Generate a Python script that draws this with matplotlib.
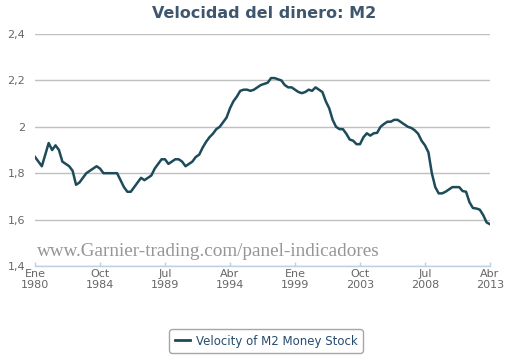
import numpy as np
import matplotlib
matplotlib.use("Agg")
import matplotlib.pyplot as plt
from matplotlib.lines import Line2D

# Quarterly velocity of M2 money stock, 1980Q1 .. 2013Q2
start_year = 1980.0
velocity = [
    1.87, 1.85, 1.83, 1.88,   # 1980
    1.93, 1.90, 1.92, 1.90,   # 1981
    1.85, 1.84, 1.83, 1.81,   # 1982
    1.75, 1.76, 1.78, 1.80,   # 1983
    1.81, 1.82, 1.83, 1.82,   # 1984
    1.80, 1.80, 1.80, 1.80,   # 1985
    1.80, 1.77, 1.74, 1.72,   # 1986
    1.72, 1.74, 1.76, 1.78,   # 1987
    1.77, 1.78, 1.79, 1.82,   # 1988
    1.84, 1.86, 1.86, 1.84,   # 1989
    1.85, 1.86, 1.86, 1.85,   # 1990
    1.83, 1.84, 1.85, 1.87,   # 1991
    1.88, 1.91, 1.935, 1.955, # 1992
    1.97, 1.99, 2.00, 2.02,   # 1993
    2.04, 2.08, 2.11, 2.13,   # 1994
    2.155, 2.16, 2.16, 2.155, # 1995
    2.16, 2.17, 2.18, 2.185,  # 1996
    2.19, 2.21, 2.21, 2.205,  # 1997
    2.20, 2.18, 2.17, 2.17,   # 1998
    2.16, 2.15, 2.145, 2.15,  # 1999
    2.16, 2.155, 2.17, 2.16,  # 2000
    2.15, 2.11, 2.08, 2.03,   # 2001
    2.00, 1.99, 1.99, 1.97,   # 2002
    1.945, 1.94, 1.925, 1.925,# 2003
    1.955, 1.972, 1.962, 1.972,# 2004
    1.974, 2.00, 2.012, 2.022,# 2005
    2.022, 2.03, 2.03, 2.02,  # 2006
    2.01, 2.00, 1.995, 1.985, # 2007
    1.97, 1.94, 1.92, 1.89,   # 2008
    1.80, 1.74, 1.713, 1.713, # 2009
    1.72, 1.73, 1.74, 1.74,   # 2010
    1.74, 1.723, 1.72, 1.675, # 2011
    1.65, 1.648, 1.643, 1.62, # 2012
    1.588, 1.58,              # 2013
]
dates = start_year + np.arange(len(velocity)) * 0.25

tick_years = [1980.0, 1984.75, 1989.5, 1994.25, 1999.0, 2003.75, 2008.5, 2013.25]
tick_labels = ["Ene\n1980", "Oct\n1984", "Jul\n1989", "Abr\n1994",
               "Ene\n1999", "Oct\n2003", "Jul\n2008", "Abr\n2013"]
y_ticks = [1.4, 1.6, 1.8, 2.0, 2.2, 2.4]
y_labels = ["1,4", "1,6", "1,8", "2", "2,2", "2,4"]

title = "Velocidad del dinero: M2"
series_name = "Velocity of M2 Money Stock"
watermark = "www.Garnier-trading.com/panel-indicadores"

W, H = 528, 359
fig = plt.figure(figsize=(W / 100, H / 100), dpi=100)
fig.patch.set_facecolor("white")
ax = fig.add_axes([35 / W, 1 - 266 / H, (490 - 35) / W, (266 - 34) / H])

line_color = "#1d4b5a"
ax.plot(dates, velocity, color=line_color, lw=1.8, solid_joinstyle="round", zorder=3)

ax.set_xlim(1980.0, 2013.25)
ax.set_ylim(1.4, 2.4)
ax.set_yticks(y_ticks)
ax.set_yticklabels(y_labels)
ax.set_xticks(tick_years)
ax.set_xticklabels(tick_labels, linespacing=1.1)

for s in ["top", "right", "left"]:
    ax.spines[s].set_visible(False)
ax.spines["bottom"].set_color("#C0D0E0")
ax.spines["bottom"].set_linewidth(1.0)

ax.grid(axis="y", color="#C0C0C0", lw=1.0, zorder=0)
ax.tick_params(axis="y", length=0, pad=7, labelsize=8, labelcolor="#666666")
ax.tick_params(axis="x", direction="in", length=3, width=1, color="#C0D0E0",
               pad=2, labelsize=8, labelcolor="#666666")

fig.text(0.5, 1 - 13 / H, title, ha="center", va="center",
         fontsize=11.5, fontweight="bold", color="#3E576F")

fig.text(37 / W, 1 - 256 / H, watermark, ha="left", va="baseline",
         fontsize=13.8, family="Liberation Serif", color="#8a8a8a", alpha=0.9)

handle = Line2D([0], [0], color=line_color, lw=2)
leg = fig.legend([handle], [series_name], loc="center",
                 bbox_to_anchor=(266 / W, 1 - 341 / H), frameon=True,
                 fontsize=8.5, handlelength=1.3, handletextpad=0.5,
                 borderpad=0.45, fancybox=True)
leg.get_frame().set_edgecolor("#909090")
leg.get_frame().set_linewidth(1.0)
leg.get_frame().set_facecolor("white")
for t in leg.get_texts():
    t.set_color("#274b6d")

fig.savefig("out.png", dpi=100)
